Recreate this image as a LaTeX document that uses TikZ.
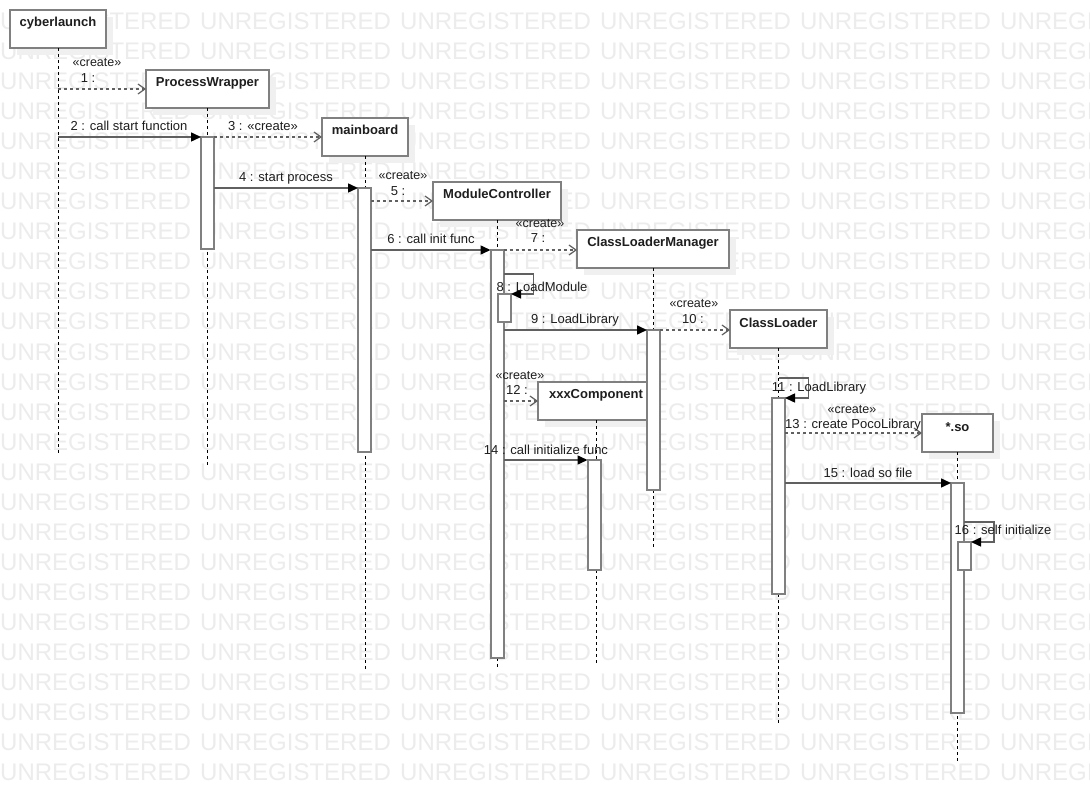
\documentclass[tikz,border=0pt]{standalone}
\usepackage{fontspec}
\setmainfont{Liberation Sans}
\usetikzlibrary{arrows.meta,shadows,calc}
\definecolor{boxgray}{RGB}{128,128,128}
\definecolor{linegray}{RGB}{96,96,96}
\definecolor{wm}{RGB}{236,236,236}
\definecolor{shadowgray}{RGB}{240,240,240}
\definecolor{txt}{RGB}{30,30,30}
\begin{document}
\begin{tikzpicture}[x=1pt,y=-1pt,
  obj/.style={draw=boxgray, line width=2pt, fill=white, inner sep=0pt, outer sep=0pt,
    text height=17pt, text depth=21pt, anchor=north west, text=txt,
    font=\fontsize{13}{15}\selectfont\bfseries,
    drop shadow={shadow xshift=7pt, shadow yshift=-7pt, fill=shadowgray, opacity=1}},
  act/.style={draw=boxgray, line width=2pt, fill=white, inner sep=0pt, outer sep=0pt,
    minimum width=13pt, anchor=north},
  life/.style={draw=black, line width=1pt, dash pattern=on 3pt off 3pt},
  sync/.style={draw=linegray, line width=1.5pt,
    -{Triangle[length=10pt,width=9pt,color=black]}},
  create/.style={draw=linegray, line width=1.5pt, dash pattern=on 3pt off 3pt,
    -{Straight Barb[length=7pt,width=10pt,line width=1.2pt,color=linegray]}},
  lbl/.style={font=\fontsize{13}{15}\selectfont, text=txt, inner sep=0pt, anchor=base},
  stereo/.style={font=\fontsize{12.5}{14}\selectfont, text=txt, inner sep=0pt, anchor=base},
  wmk/.style={font=\fontsize{24}{26}\selectfont, text=wm, inner sep=0pt, anchor=base west}
]
\useasboundingbox[fill=white] (0,0) rectangle (1090,802);

% watermark
\begin{scope}
\clip (0,0) rectangle (1090,802);
\foreach \r in {0,...,25}{
  \foreach \c in {0,...,5}{
    \node[wmk] (w-\r-\c) at (200*\c, 30+30*\r) {UNREGISTERED};
  }
}
\end{scope}

% objects
\node[obj, minimum width=96pt]  (cyber) at (10,10)   {cyberlaunch};
\node[obj, minimum width=123pt] (pw)    at (146,70)  {ProcessWrapper};
\node[obj, minimum width=86pt]  (mb)    at (322,118) {mainboard};
\node[obj, minimum width=128pt] (mc)    at (433,182) {ModuleController};
\node[obj, minimum width=152pt] (clm)   at (577,230) {ClassLoaderManager};
\node[obj, minimum width=97pt]  (cl)    at (730,310) {ClassLoader};
\node[obj, minimum width=116pt] (xxx)   at (538,382) {xxxComponent};
\node[obj, minimum width=71pt]  (so)    at (922,414) {*.so};

% lifelines
\coordinate (e-cyber) at (58,454);
\coordinate (e-pw)    at (207.5,466);
\coordinate (e-mb)    at (365,671);
\coordinate (e-mc)    at (497,669);
\coordinate (e-clm)   at (653,549);
\coordinate (e-cl)    at (778.5,725);
\coordinate (e-xxx)   at (596,664);
\coordinate (e-so)    at (957.5,762);
\draw[life] (cyber.south) -- (e-cyber);
\draw[life] (pw.south)    -- (e-pw);
\draw[life] (mb.south)    -- (e-mb);
\draw[life] (mc.south)    -- (e-mc);
\draw[life] (clm.south)   -- (e-clm);
\draw[life] (cl.south)    -- (e-cl);
\draw[life] (xxx.south)   -- (e-xxx);
\draw[life] (so.south)    -- (e-so);

% activation bars
\node[act, minimum height=112pt] (apw)  at (207.5,137) {};
\node[act, minimum height=264pt] (amb)  at (364.5,188) {};
\node[act, minimum height=408pt] (amc)  at (497,250)   {};
\node[act, minimum height=28pt]  (amc2) at (504.5,294) {};
\node[act, minimum height=160pt] (aclm) at (653.5,330) {};
\node[act, minimum height=110pt] (axxx) at (594,460)   {};
\node[act, minimum height=196pt] (acl)  at (778.5,398) {};
\node[act, minimum height=230pt] (aso)  at (957.5,483) {};
\node[act, minimum height=28pt]  (aso2) at (964.5,542) {};

% messages
\draw[create] (cyber.south |- pw.west) -- (pw.west);
\draw[sync]   (cyber.south |- apw.north) -- (apw.north west);
\draw[create] (apw.north east) -- (apw.north east -| mb.west);
\draw[sync]   (apw.east |- amb.north) -- (amb.north west);
\draw[create] (amb.east |- mc.west) -- (mc.west);
\draw[sync]   (amb.east |- amc.north) -- (amc.north west);
\draw[create] (amc.north east) -- (amc.north east -| clm.west);
\draw[sync]   ($(amc.north east)+(0,24)$) -- ++(30,0) -- ++(0,20) -- (amc2.north east);
\draw[sync]   (amc.east |- aclm.north) -- (aclm.north west);
\draw[create] (aclm.north east) -- (aclm.north east -| cl.west);
\draw[sync]   ($(cl.south)+(0,30)$) -- ++(30,0) -- ++(0,20) -- (acl.north east);
\draw[create] (amc.east |- xxx.west) -- (xxx.west);
\draw[create] (acl.east |- so.west) -- (so.west);
\draw[sync]   (amc.east |- axxx.north) -- (axxx.north west);
\draw[sync]   (acl.east |- aso.north) -- (aso.north west);
\draw[sync]   ($(aso.north east)+(0,39)$) -- ++(30,0) -- ++(0,20) -- (aso2.north east);

% labels
\node[stereo] (s1)  at (97,67)   {«create»};
\node[lbl]    (l1)  at (88,82.5) {1 :};
\node[lbl]    (l2)  at (129,131) {2 : call start function};
\node[lbl]    (l3)  at (263,131) {3 : «create»};
\node[lbl]    (l4)  at (286,182) {4 : start process};
\node[stereo] (s5)  at (403,180) {«create»};
\node[lbl]    (l5)  at (398,196) {5 :};
\node[lbl]    (l6)  at (431,244) {6 : call init func};
\node[stereo] (s7)  at (540,228) {«create»};
\node[lbl]    (l7)  at (538,243) {7 :};
\node[lbl]    (l8)  at (542,292) {8 : LoadModule};
\node[lbl]    (l9)  at (575,324) {9 : LoadLibrary};
\node[stereo] (s10) at (694,308) {«create»};
\node[lbl]    (l10) at (693,324) {10 :};
\node[lbl]    (l11) at (819,391.5) {11 : LoadLibrary};
\node[stereo] (s12) at (520,380) {«create»};
\node[lbl]    (l12) at (517,395) {12 :};
\node[stereo] (s13) at (852,413) {«create»};
\node[lbl]    (l13) at (853,428) {13 : create PocoLibrary};
\node[lbl]    (l14) at (546,454) {14 : call initialize func};
\node[lbl]    (l15) at (868,477) {15 : load so file};
\node[lbl]    (l16) at (1003,534) {16 : self initialize};
\end{tikzpicture}
\end{document}
